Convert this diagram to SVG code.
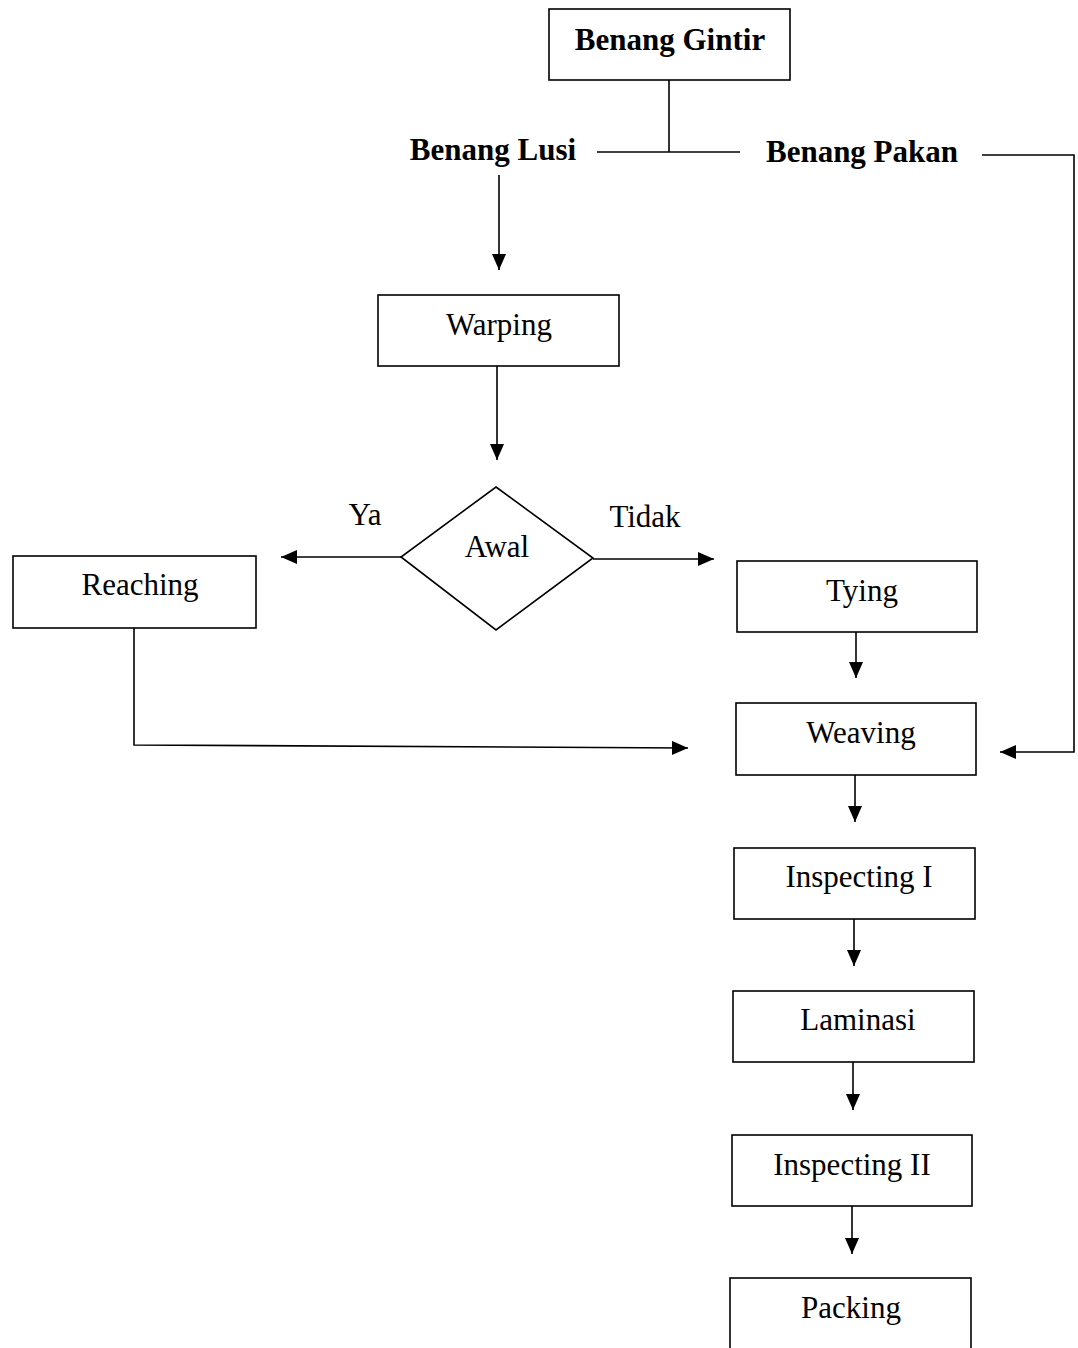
<svg xmlns="http://www.w3.org/2000/svg" width="1078" height="1348" viewBox="0 0 1078 1348">
  <defs>
    <marker id="arrow" markerUnits="userSpaceOnUse" markerWidth="16" markerHeight="14" refX="16" refY="7" orient="auto">
      <path d="M0,0 L16,7 L0,14 Z" fill="#000"/>
    </marker>
  </defs>
  <style>
    .box { fill: #fff; stroke: #000; stroke-width: 1.6; }
    .lbl { font-family: "Liberation Serif", "Times New Roman", serif; font-size: 31px; fill: #000; text-anchor: middle; }
    .bold { font-weight: bold; }
    .line { fill: none; stroke: #000; stroke-width: 1.6; }
    .arr { marker-end: url(#arrow); }
  </style>
  <rect width="1078" height="1348" fill="#fff"/>

  <g id="connectors">
    <!-- split of twisted yarn -->
    <path class="line" d="M669,80 V152"/>
    <path class="line" d="M597,152 H740"/>
    <!-- weft yarn to weaving -->
    <path class="line arr" d="M982,155 H1074 V752 H1000"/>
    <!-- warp yarn to warping -->
    <path class="line arr" d="M499,175 V270"/>
    <path class="line arr" d="M497,366 V460"/>
    <!-- decision branches -->
    <path class="line arr" d="M401,557 H281"/>
    <path class="line arr" d="M593,559 H714"/>
    <!-- reaching to weaving -->
    <path class="line arr" d="M134,628 V745 L688,748"/>
    <!-- main line -->
    <path class="line arr" d="M856,632 V678"/>
    <path class="line arr" d="M855,775 V822"/>
    <path class="line arr" d="M854,919 V966"/>
    <path class="line arr" d="M853,1062 V1110"/>
    <path class="line arr" d="M852,1206 V1254"/>
  </g>

  <g id="benang-gintir">
    <rect class="box" x="549" y="9" width="241" height="71"/>
    <text class="lbl bold" x="670" y="50">Benang Gintir</text>
  </g>
  <g id="benang-lusi">
    <text class="lbl bold" x="493" y="160">Benang Lusi</text>
  </g>
  <g id="benang-pakan">
    <text class="lbl bold" x="862" y="162">Benang Pakan</text>
  </g>
  <g id="warping">
    <rect class="box" x="378" y="295" width="241" height="71"/>
    <text class="lbl" x="499" y="335">Warping</text>
  </g>
  <g id="awal">
    <path class="box" d="M496,487 L593,558 L496,630 L401,557 Z"/>
    <text class="lbl" x="497" y="557">Awal</text>
  </g>
  <g id="label-ya">
    <text class="lbl" x="365" y="525">Ya</text>
  </g>
  <g id="label-tidak">
    <text class="lbl" x="645" y="527">Tidak</text>
  </g>
  <g id="reaching">
    <rect class="box" x="13" y="556" width="243" height="72"/>
    <text class="lbl" x="140" y="595">Reaching</text>
  </g>
  <g id="tying">
    <rect class="box" x="737" y="561" width="240" height="71"/>
    <text class="lbl" x="862" y="601">Tying</text>
  </g>
  <g id="weaving">
    <rect class="box" x="736" y="703" width="240" height="72"/>
    <text class="lbl" x="861" y="743">Weaving</text>
  </g>
  <g id="inspecting-1">
    <rect class="box" x="734" y="848" width="241" height="71"/>
    <text class="lbl" x="859" y="887">Inspecting I</text>
  </g>
  <g id="laminasi">
    <rect class="box" x="733" y="991" width="241" height="71"/>
    <text class="lbl" x="858" y="1030">Laminasi</text>
  </g>
  <g id="inspecting-2">
    <rect class="box" x="732" y="1135" width="240" height="71"/>
    <text class="lbl" x="852" y="1175">Inspecting II</text>
  </g>
  <g id="packing">
    <rect class="box" x="730" y="1278" width="241" height="100"/>
    <text class="lbl" x="851" y="1318">Packing</text>
  </g>
</svg>
